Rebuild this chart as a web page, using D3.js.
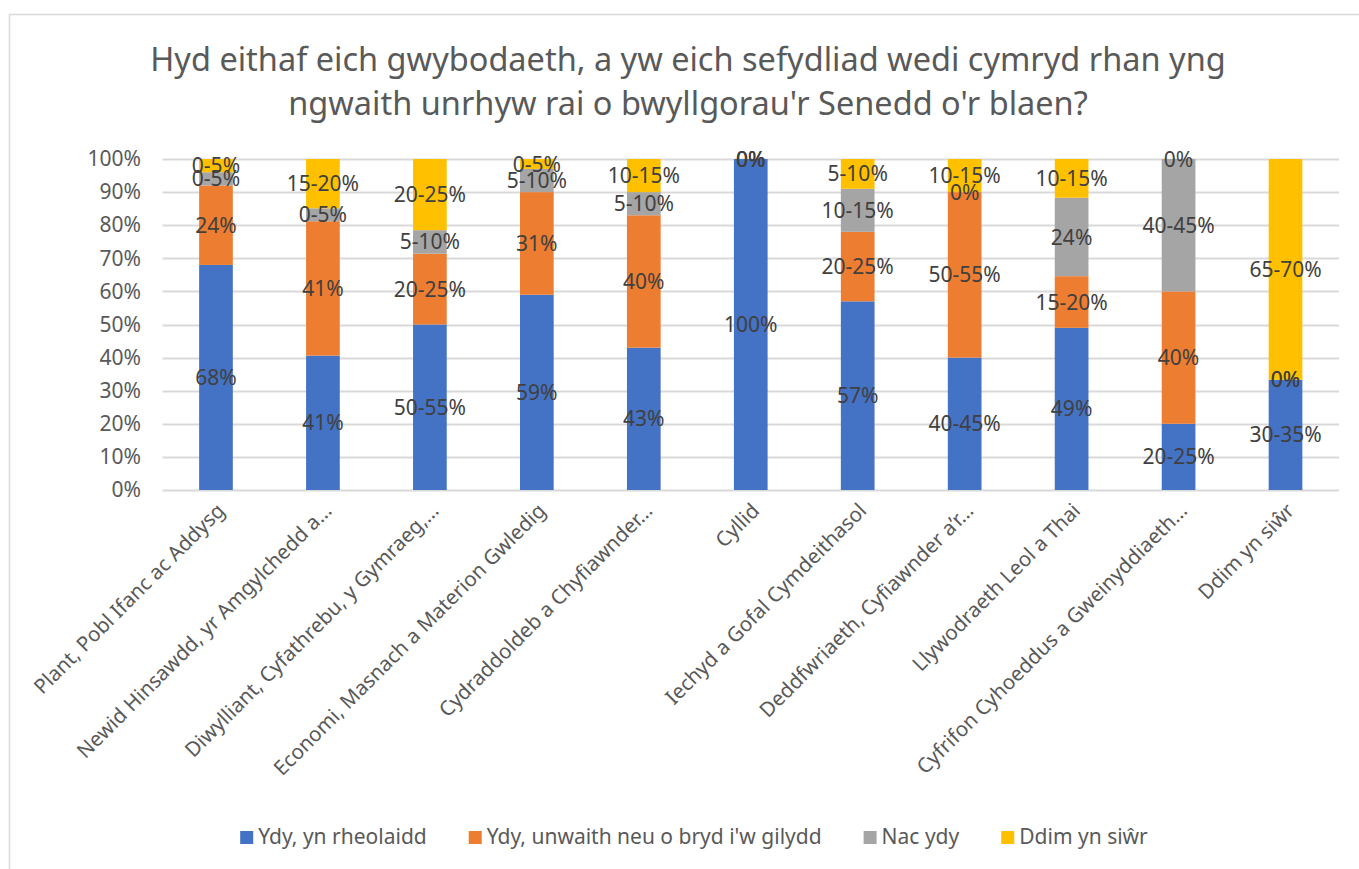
<!DOCTYPE html>
<html>
<head>
<meta charset="utf-8">
<script src="https://cdn.jsdelivr.net/npm/d3@7"></script>
<style>
  body { margin: 0; background: #fff; }
  svg { display: block; font-family: "Noto Sans", "Open Sans", sans-serif; }
</style>
</head>
<body>
<div id="chart"></div>
<script>
// categories (committees), as the truncated axis labels show them
var categories = [
  "Plant, Pobl Ifanc ac Addysg",
  "Newid Hinsawdd, yr Amgylchedd a…",
  "Diwylliant, Cyfathrebu, y Gymraeg,…",
  "Economi, Masnach a Materion Gwledig",
  "Cydraddoldeb a Chyfiawnder…",
  "Cyllid",
  "Iechyd a Gofal Cymdeithasol",
  "Deddfwriaeth, Cyfiawnder a\u2019r…",
  "Llywodraeth Leol a Thai",
  "Cyfrifon Cyhoeddus a Gweinyddiaeth…",
  "Ddim yn siŵr"
]

var seriesNames = ["Ydy, yn rheolaidd", "Ydy, unwaith neu o bryd i'w gilydd", "Nac ydy", "Ddim yn siŵr"]

// percent values
var regular    = [68, 40.6, 50, 59, 43, 100, 57, 40, 49, 20, 33.3]
var occasional = [24, 40.6, 21.4, 31, 40, 0, 21, 50, 15.6, 40, 0]
var notAtAll   = [4, 3.9, 7.1, 7, 7, 0, 13, 0, 23.7, 40, 0]
var notSure    = [4, 14.9, 21.5, 3, 10, 0, 9, 10, 11.7, 0, 66.7]

// data labels as printed on the chart
var regularLabels    = ["68%", "41%", "50-55%", "59%", "43%", "100%", "57%", "40-45%", "49%", "20-25%", "30-35%"]
var occasionalLabels = ["24%", "41%", "20-25%", "31%", "40%", "0%", "20-25%", "50-55%", "15-20%", "40%", "0%"]
var notAtAllLabels   = ["0-5%", "0-5%", "5-10%", "5-10%", "5-10%", "0%", "10-15%", "0%", "24%", "40-45%", "0%"]
var notSureLabels    = ["0-5%", "15-20%", "20-25%", "0-5%", "10-15%", "0%", "5-10%", "10-15%", "10-15%", "0%", "65-70%"]

var yTicks = [0, 10, 20, 30, 40, 50, 60, 70, 80, 90, 100]

var colors = ["#4472C4", "#ED7D31", "#A5A5A5", "#FFC000"]

var width = 1359
var height = 869
var fontSize = '21px'

var svg = d3.select('#chart').append('svg')
  .attr('width', width)
  .attr('height', height)

// chart border
svg.append('rect')
  .attr('x', 9.5).attr('y', 14.5)
  .attr('width', width + 10).attr('height', height + 10)
  .attr('fill', 'none')
  .attr('stroke', '#D9D9D9')
  .attr('stroke-width', 1.5)

// title
var title = svg.append('text')
  .attr('text-anchor', 'middle')
  .attr('fill', '#595959')
  .style('font-size', '32.5px')
title.append('tspan').attr('x', 688).attr('y', 71)
  .text("Hyd eithaf eich gwybodaeth, a yw eich sefydliad wedi cymryd rhan yng")
title.append('tspan').attr('x', 688).attr('y', 115)
  .text("ngwaith unrhyw rai o bwyllgorau'r Senedd o'r blaen?")

var x = d3.scaleBand()
  .domain(categories)
  .range([162.5, 1339])
  .paddingInner(0.685)
  .paddingOuter(0.3425)

var y = d3.scaleLinear()
  .domain([0, 100])
  .range([490, 159])

// gridlines
svg.append('g')
  .selectAll('line')
  .data(yTicks)
  .enter().append('line')
  .attr('x1', 162.5).attr('x2', 1339)
  .attr('y1', function(d) { return Math.round(y(d)) + 0.5 })
  .attr('y2', function(d) { return Math.round(y(d)) + 0.5 })
  .attr('stroke', '#D9D9D9')
  .attr('stroke-width', 2)

// y axis labels
var yAxis = svg.append('g')
  .attr('transform', 'translate(141,0)')
  .call(d3.axisLeft(y).tickValues(yTicks).tickSize(0).tickPadding(0)
    .tickFormat(function(d) { return d + '%' }))
yAxis.select('.domain').remove()
yAxis.selectAll('text')
  .attr('fill', '#595959')
  .style('font-size', fontSize)
  .style('font-family', '"Noto Sans", sans-serif')

// stack the series
var rows = categories.map(function(c, i) {
  return { cat: c, s0: regular[i], s1: occasional[i], s2: notAtAll[i], s3: notSure[i] }
})
var keys = ['s0', 's1', 's2', 's3']
var allLabels = [regularLabels, occasionalLabels, notAtAllLabels, notSureLabels]
var stacked = d3.stack().keys(keys)(rows)

var layer = svg.append('g').selectAll('g')
  .data(stacked)
  .enter().append('g')
  .attr('fill', function(d, i) { return colors[i] })

layer.selectAll('rect')
  .data(function(d) { return d })
  .enter().append('rect')
  .attr('x', function(d) { return x(d.data.cat) })
  .attr('width', x.bandwidth())
  .attr('y', function(d) { return y(d[1]) })
  .attr('height', function(d) { return y(d[0]) - y(d[1]) })

// data labels
var labelG = svg.append('g')
stacked.forEach(function(s, si) {
  labelG.selectAll(null)
    .data(s)
    .enter().append('text')
    .attr('x', function(d) { return x(d.data.cat) + x.bandwidth() / 2 })
    .attr('y', function(d) { return y((d[0] + d[1]) / 2) })
    .attr('dy', '0.36em')
    .attr('text-anchor', 'middle')
    .attr('fill', '#404040')
    .style('font-size', fontSize)
    .text(function(d, i) { return allLabels[si][i] })
})

// x axis labels
var xAxis = svg.append('g')
  .attr('transform', 'translate(0,490)')
  .call(d3.axisBottom(x).tickSize(0).tickPadding(0))
xAxis.select('.domain').remove()
xAxis.selectAll('text')
  .attr('text-anchor', 'end')
  .attr('fill', '#595959')
  .attr('dy', null)
  .attr('y', null)
  .attr('transform', 'translate(10,22) rotate(-45)')
  .style('font-size', '20.5px')
  .style('font-family', '"Noto Sans", sans-serif')

// legend
var legend = svg.append('g')
var lx = 0
seriesNames.forEach(function(name, i) {
  var g = legend.append('g')
  g.append('rect')
    .attr('width', 13).attr('height', 13)
    .attr('y', -13)
    .attr('fill', colors[i])
  var t = g.append('text')
    .attr('x', 18)
    .attr('fill', '#595959')
    .style('font-size', fontSize)
    .text(name)
  var w = 18 + t.node().getComputedTextLength()
  g.attr('transform', 'translate(' + lx + ',0)')
  lx += w + 42
})
var legendWidth = lx - 42
legend.attr('transform', 'translate(' + (694 - legendWidth / 2) + ',844)')
</script>
</body>
</html>
